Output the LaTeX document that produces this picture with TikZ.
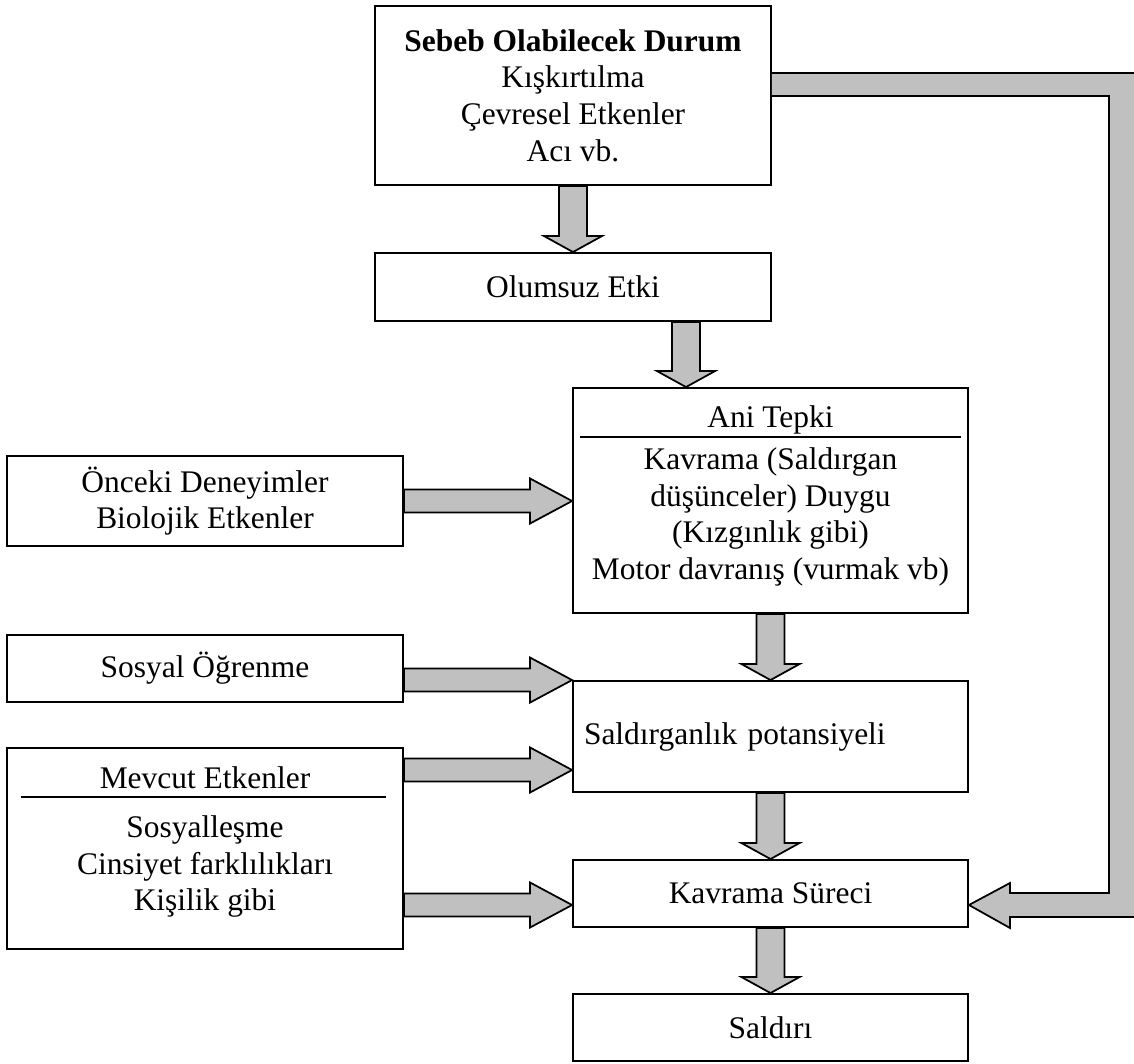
\documentclass[tikz,border=0pt]{standalone}
\usepackage{fontspec}
\setmainfont{Liberation Serif}
\usetikzlibrary{calc}
\definecolor{arrowgray}{HTML}{C0C0C0}
\newcommand{\downblk}[2]{\draw [blkarrow] let \p1=(#1), \p2=(#2) in (\x2-0.28cm,\y1) -- (\x2+0.28cm,\y1) -- (\x2+0.28cm,\y2+0.32cm) -- (\x2+0.58cm,\y2+0.32cm) -- (\x2,\y2) -- (\x2-0.58cm,\y2+0.32cm) -- (\x2-0.28cm,\y2+0.32cm) -- cycle;}
\newcommand{\rightblk}[2]{\draw [blkarrow] let \p1=(#1), \p2=(#2) in (\x1,\y2+0.23cm) -- (\x2-0.84cm,\y2+0.23cm) -- (\x2-0.84cm,\y2+0.45cm) -- (\x2,\y2) -- (\x2-0.84cm,\y2-0.45cm) -- (\x2-0.84cm,\y2-0.23cm) -- (\x1,\y2-0.23cm) -- cycle;}
\begin{document}
\begin{tikzpicture}[x=0.02cm,y=-0.02cm,font=\fontsize{17.9}{20.8}\selectfont,
    box/.style={draw,line width=1.1pt,inner sep=0pt,minimum width=7.92cm,align=center},
    blkarrow/.style={draw,fill=arrowgray,line width=1pt,line join=miter}]
      \useasboundingbox (0,0) rectangle (1134,1063);
      \clip (0,0) rectangle (1134,1063);
      \node (sebeb) at (573,95.5) [box,minimum height=3.58cm] {\textbf{Sebeb Olabilecek Durum}\\Kışkırtılma\\Çevresel Etkenler\\Acı vb.};
      \node (olumsuz) at (573,287) [box,minimum height=1.36cm] {Olumsuz Etki};
      \node (anitepki) at (770.5,500.5) [box,minimum width=7.9cm,minimum height=4.5cm] {Ani Tepki\\[3pt]Kavrama (Saldırgan\\düşünceler) Duygu\\(Kızgınlık gibi)\\Motor davranış (vurmak vb)\\[-12pt]\mbox{}};
      \node (onceki) at (205,501) [box,minimum height=1.8cm] {Önceki Deneyimler\\Biolojik Etkenler};
      \node (sosyal) at (205,668.5) [box,minimum height=1.34cm] {Sosyal Öğrenme};
      \node (saldirgan) at (770.5,736.5) [box,minimum width=7.9cm,minimum height=2.22cm,text width=7.46cm,align=left] {Saldırganlık potansiyeli};
      \node (mevcut) at (205,848.5) [box,minimum height=4.02cm] {Mevcut Etkenler\\[7pt]Sosyalleşme\\Cinsiyet farklılıkları\\Kişilik gibi\\[-10pt]\mbox{}};
      \node (kavrama) at (770.5,893.5) [box,minimum width=7.9cm,minimum height=1.34cm] {Kavrama Süreci};
      \node (saldiri) at (770.5,1027.5) [box,minimum width=7.9cm,minimum height=1.34cm] {Saldırı};
      \draw [line width=1.1pt] ([shift={(8,50)}]anitepki.north west) -- ([shift={(-8,50)}]anitepki.north east);
      \draw [line width=1.1pt] ([shift={(15,50)}]mevcut.north west) -- ([shift={(-18,50)}]mevcut.north east);
      \downblk{sebeb.south}{olumsuz.north}
      \downblk{686,0 |- olumsuz.south}{686,0 |- anitepki.north}
      \downblk{anitepki.south}{saldirgan.north}
      \downblk{saldirgan.south}{kavrama.north}
      \downblk{kavrama.south}{saldiri.north}
      \rightblk{onceki.east}{anitepki.west |- onceki.east}
      \rightblk{sosyal.east}{saldirgan.north west}
      \rightblk{mevcut.east}{saldirgan.west |- 0,770}
      \rightblk{mevcut.east}{kavrama.west |- 0,905}
      \fill [arrowgray] (sebeb.east |- 0,73) -- (1150,73) -- (1150,917) -- (1010,917) -- (1010,928) -- (kavrama.east |- 0,905) -- (1010,883) -- (1010,893) -- (1109,893) -- (1109,96) -- (sebeb.east |- 0,96) -- cycle;
      \draw [line width=1pt,line join=miter] (sebeb.east |- 0,73) -- (1150,73) (1150,917) -- (1010,917) -- (1010,928) -- (kavrama.east |- 0,905) -- (1010,883) -- (1010,893) -- (1109,893) -- (1109,96) -- (sebeb.east |- 0,96);
\end{tikzpicture}
\end{document}
